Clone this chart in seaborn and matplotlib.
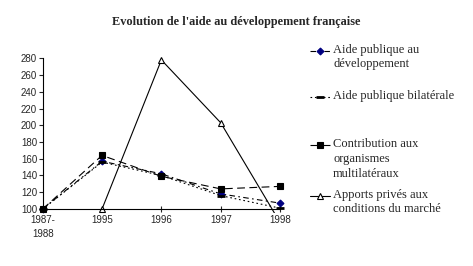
import numpy as np
import pandas as pd
import matplotlib
matplotlib.use("Agg")
import matplotlib.pyplot as plt
import seaborn as sns
from matplotlib.lines import Line2D
from matplotlib.patches import Rectangle

categories = ["1987-\n1988", "1995", "1996", "1997", "1998"]
apd = [100, 157, 142, 118, 107]
bilaterale = [100, 156, 140, 116, 101]
multilateraux = [100, 164, 139, 124, 127]
apports_prives = [np.nan, 100, 278, 203, 84]

labels = ["Aide publique au\ndéveloppement",
          "Aide publique bilatérale",
          "Contribution aux\norganismes\nmultilatéraux",
          "Apports privés aux\nconditions du marché"]

sns.set_theme(style="white")
plt.rcParams['font.family'] = ['Liberation Sans', 'DejaVu Sans']

W, H = 473.0, 266.0
fig = plt.figure(figsize=(4.73, 2.66), dpi=100)
ax = fig.add_axes([0.0903, 0.2143, 0.592 - 0.0903, 0.781 - 0.2143])

x = np.arange(len(categories))
df = pd.DataFrame({"x": x, "apd": apd, "bil": bilaterale, "mul": multilateraux, "app": apports_prives})

styles = [
    dict(col="apd", color="black", linestyle=(0, (5, 3, 1.5, 3)), marker="D", ms=3.5,
         mfc="#000080", mec="#000080"),
    dict(col="bil", color="black", linestyle=(0, (1.5, 2.5)), marker="_", ms=6,
         mfc="black", mec="black", mew=2),
    dict(col="mul", color="black", linestyle=(0, (7, 4)), marker="s", ms=4.5,
         mfc="black", mec="black"),
    dict(col="app", color="black", linestyle="-", marker="^", ms=5,
         mfc="white", mec="black"),
]

for st in styles:
    sns.lineplot(data=df, x="x", y=st["col"], ax=ax, color=st["color"], linewidth=0.8,
                 linestyle=st["linestyle"], marker=st["marker"], markersize=st["ms"],
                 markerfacecolor=st["mfc"], markeredgecolor=st["mec"],
                 markeredgewidth=st.get("mew", 0.8))

ax.set_xlim(0, len(categories) - 1)
ax.set_ylim(100, 280)

ax_h_px = (0.781 - 0.2143) * H
ax_w_px = (0.592 - 0.0903) * W
clip = Rectangle((-8 / ax_w_px, -4 / ax_h_px), 1 + 16 / ax_w_px, 1 + 12 / ax_h_px,
                 transform=ax.transAxes, facecolor="none", edgecolor="none")
ax.add_patch(clip)
for ln in ax.lines:
    ln.set_clip_path(clip)

ax.set_yticks(np.arange(100, 281, 20))
ax.set_xticks(x)
ax.set_xticklabels(categories, fontsize=7, linespacing=1.5)
ax.tick_params(axis='y', labelsize=7, direction='out', length=3, width=0.8, left=True, pad=1)
ax.tick_params(axis='x', direction='inout', length=5, width=0.8, bottom=True, pad=2)
ax.set_xlabel("")
ax.set_ylabel("")
for s in ["top", "right"]:
    ax.spines[s].set_visible(False)
for s in ["left", "bottom"]:
    ax.spines[s].set_color("black")
    ax.spines[s].set_linewidth(0.8)

fig.text(0.5, 1 - 22 / H, "Evolution de l'aide au développement française",
         ha="center", va="center", fontsize=8.8, fontweight="bold",
         family=["Liberation Serif", "DejaVu Serif"])

legend_y = [50.7, 97, 145.3, 195.7]
for st, lab, yy in zip(styles, labels, legend_y):
    yf = 1 - yy / H
    line = Line2D([310 / W, 330 / W], [yf, yf], transform=fig.transFigure,
                  color=st["color"], linewidth=0.8, linestyle=st["linestyle"])
    fig.add_artist(line)
    mk = Line2D([320 / W], [yf], transform=fig.transFigure, linestyle="none",
                marker=st["marker"], markersize=st["ms"], markerfacecolor=st["mfc"],
                markeredgecolor=st["mec"], markeredgewidth=st.get("mew", 0.8))
    fig.add_artist(mk)
    fig.text(333 / W, 1 - (yy - 7) / H, lab, ha="left", va="top", fontsize=9,
             linespacing=1.3, family=["Liberation Serif", "DejaVu Serif"])

fig.savefig("out.png", dpi=100)
